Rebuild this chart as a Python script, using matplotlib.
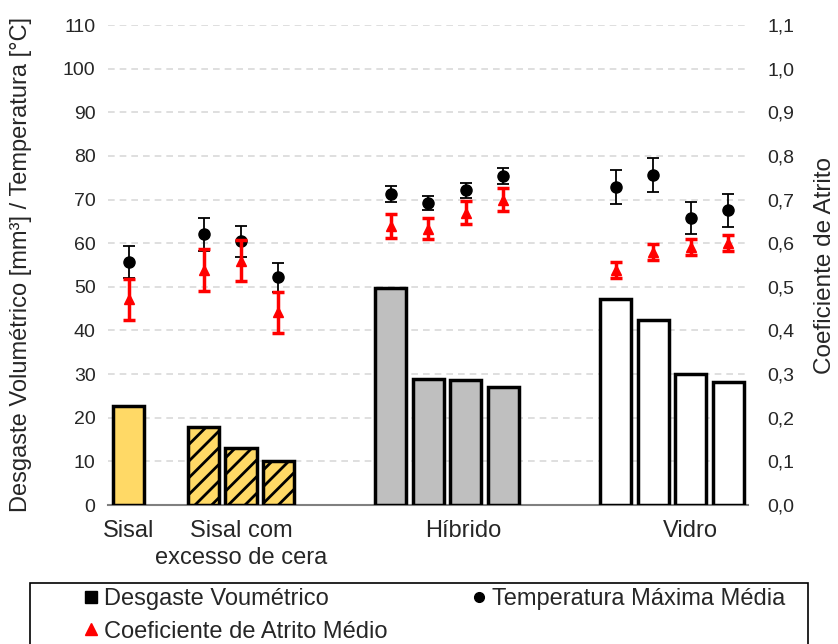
import numpy as np
import matplotlib.pyplot as plt
from matplotlib.lines import Line2D
from matplotlib.patches import Rectangle

plt.rcParams['font.family'] = ['Liberation Sans', 'DejaVu Sans']
plt.rcParams['hatch.linewidth'] = 2.0

# bar slots (gaps between the material groups)
pos = [0, 2, 3, 4, 7, 8, 9, 10, 13, 14, 15, 16]
desgaste = [22.6, 17.8, 13.0, 10.1, 49.8, 28.9, 28.6, 27.1, 47.1, 42.3, 30.1, 28.2]
temp = [55.7, 62.0, 60.4, 52.2, 71.3, 69.2, 72.1, 75.4, 72.9, 75.6, 65.8, 67.5]
temp_err = [3.6, 3.7, 3.6, 3.3, 1.9, 1.7, 1.7, 1.8, 3.9, 3.9, 3.6, 3.7]
atrito = [0.472, 0.539, 0.56, 0.442, 0.64, 0.633, 0.67, 0.70, 0.539, 0.58, 0.591, 0.60]
atrito_err = [0.047, 0.048, 0.047, 0.047, 0.027, 0.024, 0.026, 0.027, 0.019, 0.019, 0.019, 0.018]

cores = ['#FFD966'] * 4 + ['#BFBFBF'] * 4 + ['#FFFFFF'] * 4
hachuras = [''] + ['//'] * 3 + [''] * 8

grupos = ['Sisal', 'Sisal com\nexcesso de cera', 'Híbrido', 'Vidro']
grupos_pos = [0, 3, 8.93, 15]

fig = plt.figure(figsize=(8.38, 6.44), dpi=100, facecolor='white')
ax = fig.add_axes([108/838, 139/644, 640/838, 480/644])
ax2 = ax.twinx()

for p, v, c, h in zip(pos, desgaste, cores, hachuras):
    ax.bar(p, v, width=0.83, color=c, edgecolor='black', linewidth=2.5,
           hatch=h, zorder=3)

ax.errorbar(pos, temp, yerr=temp_err, fmt='o', color='black', ms=8,
            ecolor='black', elinewidth=1.3, capsize=4.5, capthick=1.3, zorder=4)
ax2.errorbar(pos, atrito, yerr=atrito_err, fmt='^', color='red', ms=7.5,
             ecolor='red', elinewidth=2.5, capsize=4.5, capthick=2.5, zorder=4)

ax.set_xlim(-0.55, 16.53)
ax.set_ylim(0, 110)
ax2.set_ylim(0, 1.1)
ax.set_yticks(np.arange(0, 111, 10))
ax2.set_yticks(np.arange(0, 1.11, 0.1))
ax2.set_yticklabels(['{:.1f}'.format(t).replace('.', ',') for t in np.arange(0, 1.11, 0.1)])

ax.grid(axis='y', color='#d9d9d9', linestyle=(0, (4, 3)), linewidth=1.2, zorder=0)
ax.set_axisbelow(True)
for a in (ax, ax2):
    for s in ['top', 'left', 'right']:
        a.spines[s].set_visible(False)
    a.spines['bottom'].set_color('#808080')
    a.spines['bottom'].set_linewidth(1.5)
ax2.spines['bottom'].set_visible(False)

txtcor = '#262626'
ax.tick_params(axis='y', length=0, pad=9, labelsize=14, labelcolor=txtcor)
ax2.tick_params(axis='y', length=0, pad=14, labelsize=14, labelcolor=txtcor)
ax.set_xticks(grupos_pos)
ax.set_xticklabels(grupos, fontsize=17, color=txtcor, linespacing=1.3)
ax.tick_params(axis='x', length=0, pad=11)

ax.set_ylabel('Desgaste Volumétrico [mm³] / Temperatura [°C]', fontsize=17,
              color=txtcor)
ax.yaxis.set_label_coords(-0.118, 0.5)
ax2.set_ylabel('Coeficiente de Atrito', fontsize=17.5, color=txtcor)
ax2.yaxis.set_label_coords(1.103, 0.5)

# legend
handles = [Line2D([], [], marker='s', color='black', ls='none', ms=9),
           Line2D([], [], marker='^', color='red', ls='none', ms=8),
           Line2D([], [], marker='o', color='black', ls='none', ms=7)]
labels = ['Desgaste Voumétrico', 'Coeficiente de Atrito Médio',
          'Temperatura Máxima Média']
fig.patches.append(Rectangle((30/838, -0.05), 778/838, 0.05 + (644-583)/644,
                             transform=fig.transFigure, fill=False,
                             edgecolor='black', linewidth=1.2))
fig.legend(handles, labels, ncol=2, loc='upper left', mode='expand',
           bbox_to_anchor=(84/838, 1 - 588/644, 701/838, 0), frameon=False,
           fontsize=17, handlelength=0.6, handletextpad=0.25,
           borderpad=0, borderaxespad=0, labelspacing=0.45, labelcolor=txtcor)

fig.savefig('out.png', dpi=100, facecolor='white')
